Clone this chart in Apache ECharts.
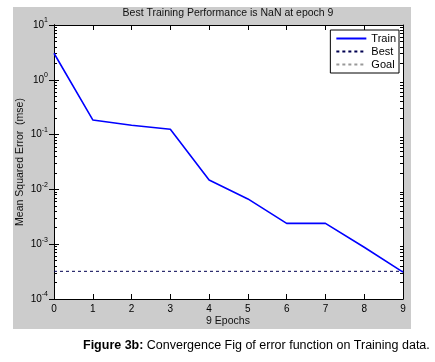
<!DOCTYPE html>
<html><head><meta charset="utf-8">
<script src="https://cdn.jsdelivr.net/npm/echarts@6/dist/echarts.min.js"></script>
<style>html,body{margin:0;padding:0;background:#fff}#c{width:435px;height:362px}</style>
</head><body><div id="c"></div>
<script>
const epochs = [0,1,2,3,4,5,6,7,8,9];
const trainMSE = [3.05, 0.185, 0.148, 0.125, 0.0148, 0.0067, 0.0024, 0.0024, 0.00088, 0.00031];
const bestMSE = 0.00032;
const bestEpochs = [0, 9];
const majorTicks = [1e-4, 1e-3, 1e-2, 1e-1, 1, 10];
const titleText = 'Best Training Performance is NaN at epoch 9';
const xName = '9 Epochs';
const yName = 'Mean Squared Error  (mse)';

const minorTicks = [];
for (let e = -4; e < 1; e++) for (let m = 2; m <= 9; m++) minorTicks.push(m * Math.pow(10, e));

const chart = echarts.init(document.getElementById('c'), null, {renderer: 'canvas'});
const FONT = 'Liberation Sans, Arial, sans-serif';
const expOf = v => Math.round(Math.log10(v));

function yAxisDef(pos, ticks, len, labels) {
  return {
    type: 'log', logBase: 10, min: 1e-4, max: 10, position: pos,
    axisLine: {show: true, lineStyle: {color: '#000', width: 1}},
    axisTick: {show: true, inside: true, length: len, customValues: ticks, lineStyle: {color: '#000'}},
    axisLabel: labels ? {
      show: true, customValues: majorTicks, margin: 6, fontFamily: FONT,
      formatter: v => '{b|10}{s|' + expOf(v) + '}',
      rich: {b: {fontSize: 10, color: '#000', fontFamily: FONT}, s: {fontSize: 7, color: '#000', fontFamily: FONT, padding: [0,0,9,0]}}
    } : {show: false},
    splitLine: {show: false}
  };
}
function xAxisDef(pos, labels) {
  return {
    type: 'value', min: 0, max: 9, interval: 1, position: pos,
    axisLine: {show: true, onZero: false, lineStyle: {color: '#000'}},
    axisTick: {show: true, inside: true, length: 5, lineStyle: {color: '#000'}},
    axisLabel: labels ? {show: true, fontSize: 10, color: '#000', fontFamily: FONT, margin: 5} : {show: false},
    splitLine: {show: false}
  };
}

chart.setOption({
  animation: false,
  backgroundColor: '#fff',
  graphic: [
    {type: 'rect', z: -10, shape: {x: 13, y: 7, width: 398, height: 322}, style: {fill: '#cccccc'}},
    {type: 'rect', z: -9, shape: {x: 54, y: 25, width: 349, height: 274}, style: {fill: '#fff'}},
    {type: 'text', x: 228, y: 13, style: {text: titleText, font: '10.5px ' + FONT, fill: '#111', align: 'center', verticalAlign: 'middle'}},
    {type: 'text', x: 228, y: 316, style: {text: xName, font: '10.5px ' + FONT, fill: '#111', align: 'center', verticalAlign: 'top'}},
    {type: 'text', x: 20, y: 162, rotation: Math.PI/2, style: {text: yName, font: '10.5px ' + FONT, fill: '#111', align: 'center', verticalAlign: 'middle'}},
    {type: 'text', x: 83, y: 346, style: {rich: {a: {font: 'bold 12.5px ' + FONT, fill: '#000'}, n: {font: '12.5px ' + FONT, fill: '#000'}}, text: '{a|Figure 3b:} {n|Convergence Fig of error function on Training data.}', verticalAlign: 'middle'}}
  ],
  grid: {left: 54, top: 25, right: 32, bottom: 63, containLabel: false},
  legend: {
    right: 36, top: 30, orient: 'vertical', backgroundColor: '#fff', borderColor: '#000', borderWidth: 1,
    padding: [3, 3, 3, 5], itemGap: 2, itemWidth: 30, itemHeight: 12, align: 'left',
    itemStyle: {opacity: 0, borderWidth: 0},
    textStyle: {fontSize: 11, color: '#000', fontFamily: FONT},
    data: ['Train', 'Best', 'Goal']
  },
  xAxis: [xAxisDef('bottom', true), xAxisDef('top', false)],
  yAxis: [
    yAxisDef('left', majorTicks, 5, true),
    yAxisDef('right', majorTicks, 5, false),
    yAxisDef('left', minorTicks, 3, false),
    yAxisDef('right', minorTicks, 3, false)
  ],
  series: [
    {name: 'Train', type: 'line', xAxisIndex: 0, yAxisIndex: 0, symbol: 'none', data: epochs.map((e, i) => [e, trainMSE[i]]), lineStyle: {color: '#0000ff', width: 1.6}, itemStyle: {color: '#0000ff'}, z: 5},
    {name: 'Best', type: 'line', xAxisIndex: 0, yAxisIndex: 0, symbol: 'none', data: bestEpochs.map(e => [e, bestMSE]), lineStyle: {color: '#000050', width: 1, type: [3, 3]}, itemStyle: {color: '#000050'}, z: 4},
    {name: 'Goal', type: 'line', xAxisIndex: 0, yAxisIndex: 0, symbol: 'none', data: [], lineStyle: {color: '#999', width: 1, type: [3, 3]}, itemStyle: {color: '#999'}}
  ]
});
</script></body></html>
